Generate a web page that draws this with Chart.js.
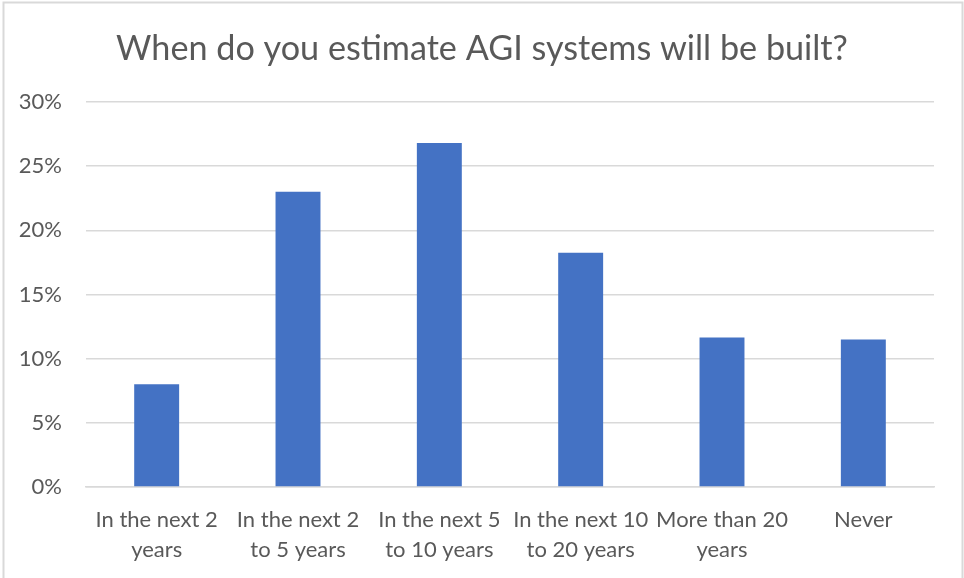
<!DOCTYPE html>
<html>
<head>
<meta charset="utf-8">
<script src="https://cdn.jsdelivr.net/npm/chart.js@4/dist/chart.umd.min.js"></script>
<style>
  html, body { margin: 0; padding: 0; background: #fff; }
  #wrap { width: 964px; height: 578px; }
</style>
</head>
<body>
<div id="wrap"><canvas id="agiChart" width="964" height="578"></canvas></div>
<script>
// chart data
const categories = [
    ["In the next 2", "years"],
    ["In the next 2", "to 5 years"],
    ["In the next 5", "to 10 years"],
    ["In the next 10", "to 20 years"],
    ["More than 20", "years"],
    ["Never"]
];
const shares = [8.0, 23.0, 26.8, 18.25, 11.65, 11.5];
const yTicks = [0, 5, 10, 15, 20, 25, 30];

const fontFamily = "Lato, 'Open Sans', sans-serif";
const textColor = "#595959";
const gridColor = "#d9d9d9";

// light frame round the chart, like the office export
const framePlugin = {
    id: "frame",
    afterDraw(chart) {
        const ctx = chart.ctx;
        ctx.save();
        ctx.strokeStyle = gridColor;
        ctx.lineWidth = 2;
        ctx.strokeRect(3.5, 2.5, 959, 700);
        ctx.restore();
    }
};

const ctx = document.getElementById("agiChart").getContext("2d");
new Chart(ctx, {
    type: "bar",
    data: {
        labels: categories,
        datasets: [{
            data: shares,
            backgroundColor: "#4472C4",
            borderWidth: 0,
            categoryPercentage: 1,
            barPercentage: 0.318
        }]
    },
    options: {
        responsive: false,
        animation: false,
        layout: { padding: 0 },
        plugins: {
            legend: { display: false },
            tooltip: { enabled: false },
            title: {
                display: true,
                text: "When do you estimate AGI systems will be built?",
                color: textColor,
                font: { family: fontFamily, size: 34.2, weight: "normal", lineHeight: 1.2 },
                padding: { top: 28, bottom: 33 }
            }
        },
        scales: {
            x: {
                grid: { display: false },
                border: { color: gridColor, width: 1.5 },
                ticks: {
                    color: textColor,
                    font: { family: fontFamily, size: 22, lineHeight: 1.36 },
                    padding: 10,
                    maxRotation: 0,
                    autoSkip: false
                },
                afterFit(scale) { scale.height = 91; }
            },
            y: {
                min: 0,
                max: 30,
                afterBuildTicks(scale) { scale.ticks = yTicks.map(v => ({ value: v })); },
                grid: { color: gridColor, lineWidth: 1.5, drawTicks: false },
                border: { display: false },
                ticks: {
                    color: textColor,
                    font: { family: fontFamily, size: 22 },
                    padding: 24,
                    callback: v => v + "%"
                },
                afterFit(scale) { scale.width = 86; }
            },
            // empty right margin so the title stays centred on the canvas
            yRight: {
                type: "linear",
                position: "right",
                grid: { display: false },
                border: { display: false },
                ticks: { display: false },
                afterFit(scale) { scale.width = 30; }
            }
        }
    },
    plugins: [framePlugin]
});
</script>
</body>
</html>
